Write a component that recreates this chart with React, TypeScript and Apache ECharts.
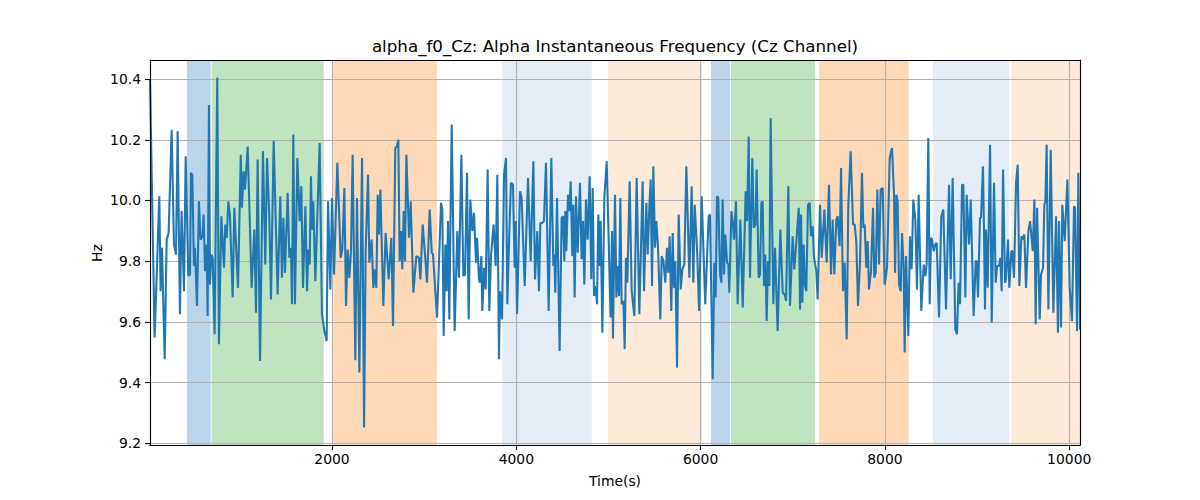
import React, { useEffect, useRef } from "react";
import * as echarts from "echarts";

const titleText = "alpha_f0_Cz: Alpha Instantaneous Frequency (Cz Channel)";
const xLabel = "Time(s)";
const yLabel = "Hz";

const xTicks = [2000, 4000, 6000, 8000, 10000];
const yTicks = [9.2, 9.4, 9.6, 9.8, 10.0, 10.2, 10.4];
const xRange = [25, 10117];
const yRange = [9.194, 10.463];

// shaded state bands (seconds)
const bandStart = [426, 694, 2014, 3848, 4995, 6113, 6330, 7285, 8522, 9368];
const bandEnd = [684, 1910, 3139, 4818, 6012, 6319, 7243, 8258, 9350, 10117];
const bandColor = ["#bad5e9", "#c0e3c0", "#ffd8b6", "#e4ecf6", "#feead8", "#bad5e9", "#c0e3c0", "#ffd8b6", "#e4ecf6", "#feead8"];

const timeSec = [
  25, 75, 126, 140, 155, 184, 206, 227, 260, 285, 307, 325, 350, 368, 394, 412, 441, 459, 470, 484, 502, 513, 535, 556, 574, 596, 607, 622, 640, 650, 665, 676, 690, 705, 726, 755, 773, 799, 828, 842, 857, 875, 893, 922, 940, 980,
  1010, 1023, 1041, 1056, 1085, 1128, 1157, 1175, 1193, 1219, 1251, 1276, 1295, 1320, 1338, 1367, 1410, 1439, 1457, 1472, 1490, 1519, 1537, 1555, 1566, 1580, 1598, 1624, 1649, 1667, 1685, 1711, 1729, 1743, 1758, 1772, 1783, 1797, 1819, 1866, 1891, 1917, 1942, 1957, 1982, 2000,
  2022, 2058, 2094, 2112, 2134, 2152, 2170, 2188, 2206, 2224, 2253, 2271, 2297, 2326, 2348, 2365, 2391, 2405, 2430, 2449, 2463, 2481, 2496, 2510, 2525, 2557, 2582, 2615, 2644, 2662, 2687, 2702, 2720, 2734, 2749, 2763, 2778, 2792, 2807, 2836, 2854, 2883, 2915, 2944, 2959, 2984, 3016,
  3031, 3060, 3082, 3096, 3140, 3183, 3197, 3212, 3230, 3244, 3259, 3273, 3299, 3331, 3360, 3378, 3404, 3425, 3443, 3465, 3483, 3501, 3523, 3541, 3563, 3574, 3595, 3602, 3621, 3631, 3650, 3668, 3689, 3707, 3725, 3754, 3776, 3794, 3812, 3823, 3845, 3867, 3888, 3903, 3924, 3942, 3964, 3982, 3993, 4008,
  4040, 4058, 4091, 4127, 4156, 4185, 4203, 4228, 4246, 4261, 4282, 4300, 4322, 4351, 4380, 4402, 4413, 4423, 4442, 4470, 4492, 4507, 4521, 4532, 4543, 4561, 4575, 4590, 4608, 4619, 4633, 4648, 4666, 4691, 4709, 4724, 4738, 4756, 4774, 4796, 4814, 4829, 4843, 4861, 4876, 4890, 4905, 4915, 4934, 4955, 4981, 5010, 5024, 5039,
  5049, 5071, 5086, 5100, 5115, 5129, 5143, 5162, 5176, 5190, 5205, 5230, 5252, 5281, 5306, 5335, 5371, 5386, 5411, 5426, 5444, 5458, 5473, 5487, 5505, 5520, 5538, 5563, 5578, 5596, 5617, 5635, 5650, 5664, 5682, 5697, 5711, 5726, 5744, 5762, 5784, 5802, 5823, 5845, 5878, 5903, 5921, 5936, 5964, 5983, 6012, 6050,
  6088, 6102, 6131, 6149, 6163, 6178, 6192, 6211, 6225, 6239, 6254, 6268, 6287, 6301, 6312, 6334, 6348, 6362, 6384, 6402, 6431, 6457, 6489, 6504, 6522, 6536, 6561, 6576, 6594, 6608, 6630, 6645, 6659, 6673, 6688, 6702, 6717, 6731, 6746, 6760, 6789, 6807, 6836, 6865, 6891, 6912, 6927, 6952, 6970, 6999, 7017, 7065,
  7079, 7090, 7104, 7118, 7133, 7147, 7165, 7184, 7198, 7216, 7231, 7256, 7270, 7296, 7314, 7343, 7368, 7393, 7415, 7433, 7451, 7473, 7487, 7509, 7524, 7545, 7563, 7585, 7603, 7628, 7654, 7672, 7690, 7708, 7730, 7751, 7766, 7780, 7798, 7813, 7827, 7849, 7871, 7885, 7900, 7918, 7936, 7954, 7976, 7997, 8023, 8052,
  8077, 8099, 8110, 8124, 8138, 8153, 8171, 8186, 8204, 8214, 8229, 8254, 8272, 8290, 8308, 8330, 8348, 8366, 8395, 8421, 8439, 8453, 8471, 8486, 8500, 8511, 8529, 8547, 8562, 8587, 8612, 8634, 8663, 8696, 8714, 8735, 8764, 8782, 8800, 8815, 8837, 8851, 8873, 8887, 8913, 8931, 8963, 8985, 8996, 9010, 9032, 9043, 9064, 9075,
  9086, 9097, 9115, 9141, 9159, 9184, 9202, 9217, 9238, 9253, 9267, 9282, 9303, 9314, 9336, 9350, 9372, 9383, 9401, 9423, 9441, 9459, 9481, 9491, 9513, 9531, 9557, 9575, 9604, 9622, 9636, 9651, 9680, 9694, 9716, 9730, 9741, 9755, 9774, 9799, 9828, 9857, 9878, 9889, 9911, 9925, 9951, 9980, 10005, 10030, 10052, 10063, 10085, 10099, 10117,
];

const alphaHz = [
  10.40, 9.548, 10.014, 9.701, 9.844, 9.477, 9.871, 9.893, 10.233, 9.855, 9.822, 10.228, 9.625, 9.965, 9.701, 10.146, 9.751, 9.756, 10.091, 10.085, 9.784, 9.844, 9.652, 9.997, 9.871, 9.882, 9.954, 9.767, 9.855, 9.619, 10.315, 9.723, 9.822, 9.811, 9.559, 10.405, 9.526, 9.948, 9.778, 9.921, 9.877, 9.997, 9.948, 9.68, 9.976, 9.712,
  10.151, 9.976, 10.096, 10.036, 10.178, 9.712, 9.904, 9.63, 10.135, 9.471, 10.162, 9.789, 10.14, 9.943, 9.674, 10.197, 9.69, 10.014, 9.745, 9.943, 9.762, 10.025, 9.811, 9.844, 9.658, 10.217, 9.658, 10.14, 9.932, 10.047, 9.712, 9.981, 9.701, 9.838, 9.789, 10.08, 9.904, 9.997, 9.734, 10.189, 9.625, 9.57, 9.537, 9.997, 9.707, 10.008,
  9.756, 10.124, 9.811, 9.838, 10.041, 9.652, 9.838, 9.745, 9.833, 10.151, 9.473, 10.008, 9.433, 10.14, 9.252, 9.833, 10.085, 9.795, 9.871, 9.712, 9.773, 9.712, 10.019, 9.888, 10.036, 9.652, 9.893, 9.74, 9.877, 9.586, 10.173, 10.178, 10.20, 9.80, 9.899, 9.773, 9.965, 9.80, 10.151, 9.877, 9.997, 9.696, 9.817, 9.811, 9.74, 9.921, 9.795,
  9.729, 9.97, 9.828, 9.822, 9.614, 9.992, 9.97, 9.553, 9.855, 9.701, 9.932, 9.608, 10.25, 9.57, 9.899, 9.745, 10.151, 9.751, 9.756, 10.091, 9.608, 10.003, 9.899, 9.959, 9.795, 9.877, 9.74, 9.729, 9.817, 9.636, 9.778, 9.707, 10.102, 9.636, 9.817, 9.921, 9.784, 10.085, 9.477, 9.701, 9.608, 10.085, 10.14, 9.658, 9.893, 10.058, 10.052, 9.778, 9.932, 9.625,
  10.03, 10.008, 9.718, 10.074, 9.80, 10.129, 9.74, 9.899, 9.701, 9.926, 9.926, 9.932, 10.124, 9.636, 10.14, 9.784, 9.822, 9.696, 10.008, 9.504, 9.943, 9.948, 9.80, 9.965, 9.833, 10.019, 9.965, 10.063, 9.817, 9.986, 9.68, 10.014, 9.828, 10.058, 9.806, 9.932, 9.723, 10.003, 9.871, 10.08, 9.74, 10.041, 9.685, 9.718, 9.658, 9.954, 9.784, 9.932, 9.564, 10.008, 10.129, 9.773, 9.614, 9.899,
  9.545, 10.019, 9.68, 9.784, 9.685, 10.008, 9.658, 9.669, 9.51, 9.811, 9.729, 10.063, 9.701, 9.619, 10.074, 9.625, 10.063, 9.701, 9.992, 9.822, 9.981, 10.069, 9.718, 10.113, 9.844, 9.932, 9.844, 9.608, 9.817, 9.80, 9.729, 9.844, 9.762, 9.882, 9.636, 9.893, 9.712, 9.80, 9.449, 9.954, 9.707, 9.773, 9.789, 10.113, 9.745, 10.047, 9.729, 9.986, 9.822, 9.636, 10.014, 9.658,
  9.948, 9.954, 9.411, 9.795, 9.68, 10.014, 10.008, 9.756, 9.729, 10.003, 9.756, 9.888, 9.795, 9.789, 9.696, 9.965, 9.932, 9.871, 9.997, 9.658, 9.937, 9.647, 10.03, 9.932, 10.211, 9.745, 10.14, 9.91, 9.921, 10.102, 9.745, 9.756, 9.992, 9.997, 9.718, 9.822, 9.603, 9.80, 9.718, 10.272, 9.658, 9.844, 9.57, 9.904, 9.696, 9.69, 9.669, 10.047, 9.652, 9.882, 9.773, 9.976,
  9.641, 9.954, 9.663, 9.855, 9.718, 9.701, 9.986, 9.992, 9.882, 9.915, 9.811, 9.767, 9.674, 9.986, 9.811, 9.97, 9.795, 10.052, 9.756, 9.937, 9.756, 9.937, 9.948, 9.849, 10.107, 9.701, 9.795, 9.542, 9.986, 10.162, 9.921, 9.921, 9.86, 9.652, 9.80, 10.091, 9.91, 9.921, 9.778, 9.866, 9.707, 9.767, 9.976, 9.745, 9.762, 10.036, 9.789, 10.036, 10.041, 9.723, 9.778, 10.14,
  10.173, 10.019, 9.762, 10.019, 9.997, 9.723, 9.701, 9.893, 9.773, 9.499, 9.817, 9.553, 9.882, 9.773, 10.003, 9.937, 9.707, 10.019, 9.636, 9.789, 9.751, 9.789, 10.206, 9.658, 9.877, 9.871, 9.833, 9.855, 9.86, 9.614, 9.948, 9.97, 9.641, 10.052, 9.74, 10.074, 9.575, 9.559, 9.729, 9.658, 10.052, 10.052, 9.68, 10.019, 9.855, 10.003, 9.619, 9.80, 9.80, 9.68, 9.943, 9.943, 10.113, 9.904,
  9.641, 9.904, 9.712, 10.184, 9.597, 10.058, 9.729, 9.784, 9.784, 9.811, 9.701, 10.102, 9.729, 9.74, 9.871, 9.712, 9.833, 9.833, 9.745, 10.058, 10.118, 9.718, 9.882, 9.871, 9.888, 9.712, 9.899, 9.932, 9.833, 10.003, 9.592, 9.976, 9.608, 9.756, 9.778, 9.986, 9.997, 10.184, 9.641, 10.167, 9.63, 9.948, 9.564, 9.932, 9.581, 9.986, 9.866, 10.069, 9.712, 9.603, 9.981, 9.976, 9.57, 10.091, 9.575,
];

const FONT = "DejaVu Sans";

export default function App() {
  const ref = useRef<HTMLDivElement>(null);
  useEffect(() => {
    if (!ref.current) return;
    const chart = echarts.init(ref.current, null, { renderer: "svg" });
    const data = timeSec.map((t, i) => [t, alphaHz[i]]);
    const bands = bandStart.map((s, i) => [
      { xAxis: s, itemStyle: { color: bandColor[i], opacity: 1 } },
      { xAxis: bandEnd[i] },
    ]);
    const gridLines = [
      ...yTicks.map((v) => ({ yAxis: v })),
      ...xTicks.map((v) => ({ xAxis: v })),
    ];
    const spine = { show: true, onZero: false, lineStyle: { color: "#000", width: 1.1 } };
    const tickStyle = { color: "#000", width: 1.1 };
    chart.setOption({
      animation: false,
      grid: { left: 150, right: 120, top: 60, bottom: 55 },
      xAxis: [
        {
          type: "value",
          min: xRange[0],
          max: xRange[1],
          position: "bottom",
          z: 10,
          axisLine: spine,
          axisTick: { show: true, inside: false, length: 4.9, lineStyle: tickStyle, customValues: xTicks },
          axisLabel: {
            customValues: xTicks,
            color: "#000",
            fontSize: 13.9,
            fontFamily: FONT,
            margin: 7,
            formatter: (v: number) => String(v),
          },
          splitLine: { show: false },
        },
        {
          type: "value",
          min: xRange[0],
          max: xRange[1],
          position: "top",
          z: 10,
          axisLine: spine,
          axisTick: { show: false },
          axisLabel: { show: false },
          splitLine: { show: false },
        },
      ],
      yAxis: [
        {
          type: "value",
          min: yRange[0],
          max: yRange[1],
          position: "left",
          z: 10,
          axisLine: spine,
          axisTick: { show: true, inside: false, length: 4.9, lineStyle: tickStyle, customValues: yTicks },
          axisLabel: {
            customValues: yTicks,
            color: "#000",
            fontSize: 13.9,
            fontFamily: FONT,
            margin: 9,
            formatter: (v: number) => v.toFixed(1),
          },
          splitLine: { show: false },
        },
        {
          type: "value",
          min: yRange[0],
          max: yRange[1],
          position: "right",
          z: 10,
          axisLine: spine,
          axisTick: { show: false },
          axisLabel: { show: false },
          splitLine: { show: false },
        },
      ],
      series: [
        {
          type: "line",
          data: [],
          z: 1,
          silent: true,
          markArea: { silent: true, data: bands },
        },
        {
          type: "line",
          data: [],
          z: 2,
          silent: true,
          markLine: {
            silent: true,
            symbol: ["none", "none"],
            label: { show: false },
            lineStyle: { color: "#b0b0b0", width: 1.1, type: "solid" },
            emphasis: { disabled: true },
            data: gridLines,
          },
        },
        {
          type: "line",
          data,
          z: 5,
          silent: true,
          showSymbol: false,
          symbol: "none",
          lineStyle: { color: "#1f77b4", width: 2.08 },
          itemStyle: { color: "#1f77b4" },
        },
      ],
      graphic: [
        {
          type: "text",
          x: 615,
          y: 46,
          style: {
            text: titleText,
            fill: "#000",
            fontSize: 16.7,
            fontFamily: FONT,
            textAlign: "center",
            textVerticalAlign: "middle",
            align: "center",
            verticalAlign: "middle",
          },
        },
        {
          type: "text",
          x: 615,
          y: 481,
          style: {
            text: xLabel,
            fill: "#000",
            fontSize: 13.9,
            fontFamily: FONT,
            textAlign: "center",
            textVerticalAlign: "middle",
            align: "center",
            verticalAlign: "middle",
          },
        },
        {
          type: "text",
          x: 97,
          y: 253,
          rotation: Math.PI / 2,
          style: {
            text: yLabel,
            fill: "#000",
            fontSize: 13.9,
            fontFamily: FONT,
            textAlign: "center",
            textVerticalAlign: "middle",
            align: "center",
            verticalAlign: "middle",
          },
        },
      ],
    });
    return () => chart.dispose();
  }, []);
  return (
    <div
      ref={ref}
      style={{ position: "fixed", left: 0, top: 0, width: 1200, height: 500, background: "#fff" }}
    />
  );
}
